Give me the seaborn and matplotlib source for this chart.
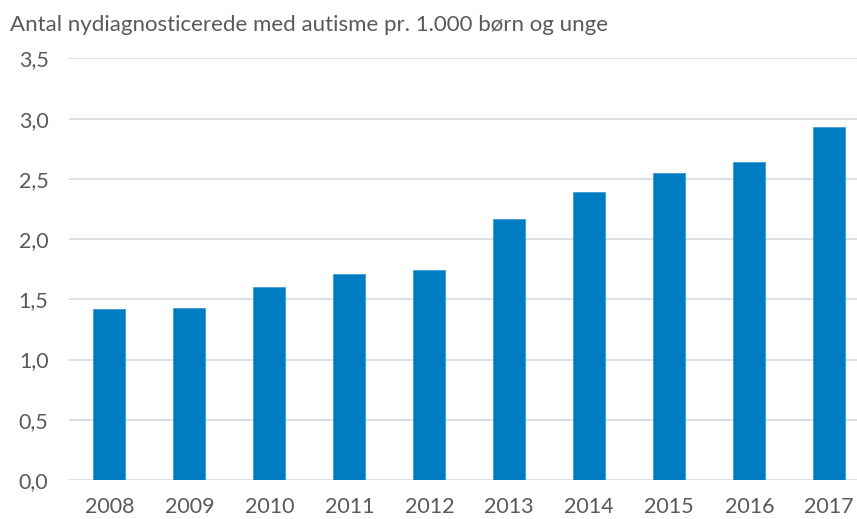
import numpy as np
import pandas as pd
import seaborn as sns
import matplotlib.pyplot as plt
from matplotlib.ticker import FuncFormatter

years = ["2008", "2009", "2010", "2011", "2012", "2013", "2014", "2015", "2016", "2017"]
rates = [1.42, 1.43, 1.60, 1.71, 1.74, 2.17, 2.39, 2.55, 2.64, 2.93]
yticks = [0, 0.5, 1.0, 1.5, 2.0, 2.5, 3.0, 3.5]

sns.set_style("white")
plt.rcParams['font.family'] = ['Lato', 'DejaVu Sans']

df = pd.DataFrame({"year": years, "rate": rates})

fig = plt.figure(figsize=(8.57, 5.19), dpi=100)
ax = fig.add_axes([0.0809, 0.0751, 0.9334, 0.8122])

sns.barplot(data=df, x="year", y="rate", color="#007CC3", saturation=1,
            width=0.4, edgecolor="#3D9BD6", linewidth=0.6, ax=ax, zorder=3)

ax.set_ylim(0, 3.5)
ax.set_yticks(yticks)
ax.yaxis.set_major_formatter(FuncFormatter(lambda v, p: f"{v:.1f}".replace(".", ",")))
ax.grid(axis="y", color="#D9D9D9", linewidth=1.2, zorder=0)
ax.set_axisbelow(True)
for s in ax.spines.values():
    s.set_visible(False)
ax.tick_params(axis="both", length=0, labelsize=15.5, colors="#595959")
ax.tick_params(axis="y", pad=15)
ax.tick_params(axis="x", pad=12)
ax.set_xlabel("")
ax.set_ylabel("")

fig.text(0.0117, 0.952, "Antal nydiagnosticerede med autisme pr. 1.000 børn og unge",
         fontsize=16, color="#595959", va="center", ha="left")

fig.savefig("out.png", dpi=100)
